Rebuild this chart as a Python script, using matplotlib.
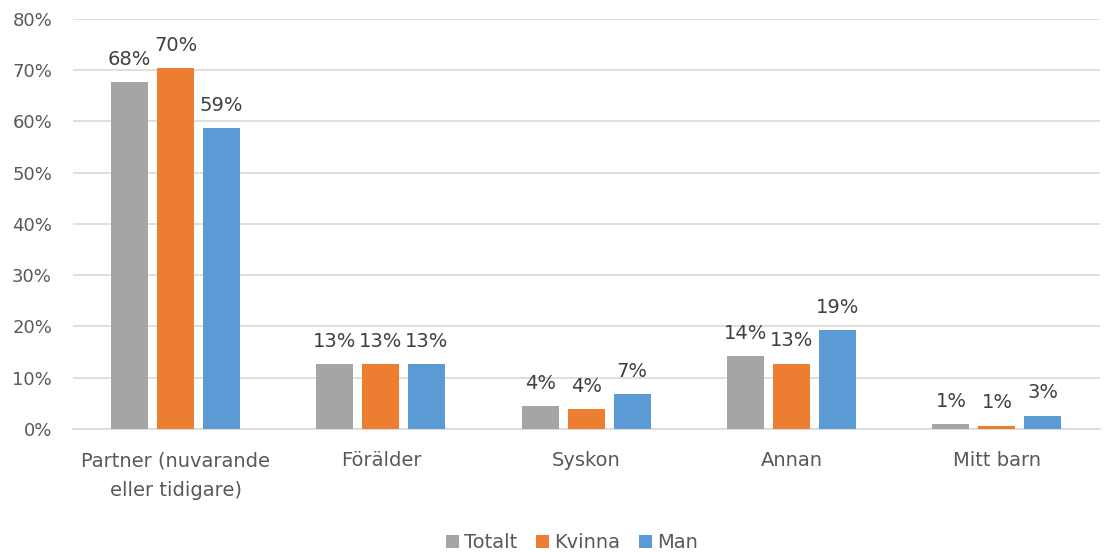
import numpy as np
import matplotlib.pyplot as plt

plt.rcParams['font.family'] = ['DejaVu Sans']

categories = ['Partner (nuvarande\neller tidigare)', 'Förälder', 'Syskon', 'Annan', 'Mitt barn']
series = ['Totalt', 'Kvinna', 'Man']
totalt = [67.6, 12.6, 4.5, 14.2, 0.9]
kvinna = [70.4, 12.6, 3.8, 12.7, 0.6]
man = [58.7, 12.6, 6.8, 19.2, 2.6]
colors = ['#A5A5A5', '#ED7D31', '#5B9BD5']

fig = plt.figure(figsize=(11.04, 5.52), dpi=100)
ax = fig.add_axes([0.066, 0.223, 0.93, 0.743])

x = np.arange(len(categories))
w = 0.18
step = 0.224
for i, (name, vals) in enumerate(zip(series, [totalt, kvinna, man])):
    pos = x + (i - 1) * step
    ax.bar(pos, vals, w, color=colors[i], label=name, zorder=3)
    for p, v in zip(pos, vals):
        ax.text(p, v + 2.6, f'{v:.0f}%', ha='center', va='bottom',
                fontsize=14, color='#404040')

ax.set_xlim(-0.5, len(categories) - 0.5)
ax.set_ylim(0, 80)
ax.set_yticks(np.arange(0, 81, 10))
ax.set_yticklabels([f'{t}%' for t in range(0, 81, 10)])
ax.set_xticks(x)
ax.set_xticklabels(categories, linespacing=1.7)
ax.tick_params(axis='both', length=0, labelsize=13, labelcolor='#595959')
ax.tick_params(axis='x', labelsize=14, pad=16)
ax.tick_params(axis='y', pad=15)
ax.grid(axis='y', color='#D9D9D9', linewidth=1.2, zorder=0)
for s in ['top', 'right', 'left']:
    ax.spines[s].set_visible(False)
ax.spines['bottom'].set_color('#D9D9D9')
ax.spines['bottom'].set_linewidth(1.2)

fig.legend(loc='center', bbox_to_anchor=(0.518, 0.017), ncol=3, frameon=False,
           fontsize=14, labelcolor='#595959', handlelength=0.65, handleheight=0.65,
           handletextpad=0.25, columnspacing=1.0)

fig.savefig('out.png', dpi=100)
